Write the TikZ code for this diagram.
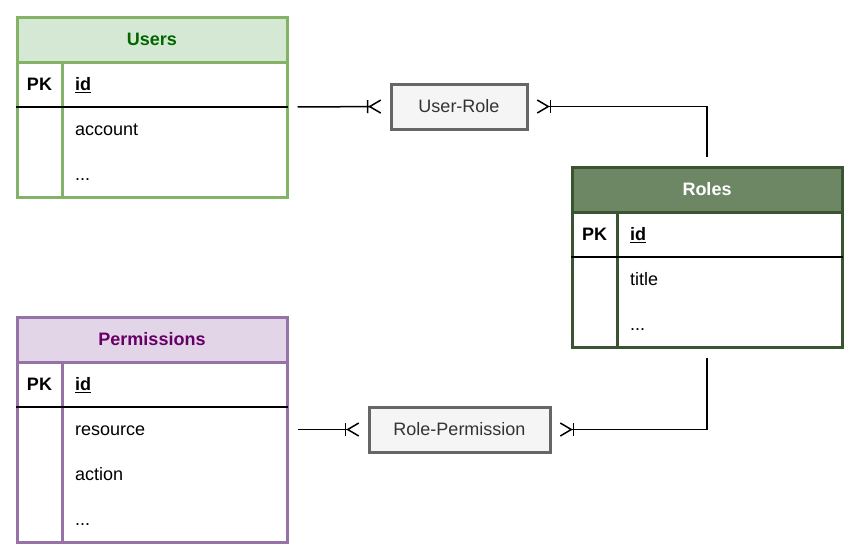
\documentclass[tikz,border=0pt]{standalone}
\usepackage{fontspec}
\setmainfont{Liberation Sans}
\usepackage{tikz}
\usetikzlibrary{arrows.meta,positioning,calc}
\definecolor{usrfill}{HTML}{D5E8D4}
\definecolor{usrline}{HTML}{82B366}
\definecolor{usrtext}{HTML}{006600}
\definecolor{rolfill}{HTML}{6D8764}
\definecolor{rolline}{HTML}{3A5431}
\definecolor{perfill}{HTML}{E1D5E7}
\definecolor{perline}{HTML}{9673A6}
\definecolor{pertext}{HTML}{660066}
\definecolor{jfill}{HTML}{F5F5F5}
\definecolor{jline}{HTML}{666666}
\definecolor{jtext}{HTML}{333333}
\newcommand{\morecols}{...}
\newcommand{\erfont}{\fontsize{18}{22}\selectfont}
\tikzset{
  tbl/.style={rectangle, draw=#1, line width=3pt, fill=white, minimum width=270pt, inner sep=0pt},
  head/.style={rectangle, line width=3pt, minimum width=270pt, minimum height=45pt, inner sep=0pt,
               text height=12.9pt, text depth=0pt, font=\erfont\bfseries},
  field/.style={anchor=west, inner sep=0pt, text height=12.9pt, text depth=0pt},
  pk/.style={font=\erfont\bfseries, inner sep=0pt, text height=12.9pt, text depth=0pt},
  link/.style={rectangle, draw=jline, fill=jfill, line width=3pt, text=jtext, minimum height=45pt, inner sep=0pt,
               text height=12.9pt, text depth=0pt},
  rel/.style={line width=1.5pt, black},
  many/.tip={Bar[width=13pt] Straight Barb[reversed, length=11pt, width=13pt]},
}

\begin{document}
\begin{tikzpicture}[x=1pt, y=-1pt, font=\erfont]
\useasboundingbox (0,0) rectangle (858,558);
% Users
\node[tbl=usrline, minimum height=180pt] (users) at (152,107) {};
\node[head, draw=usrline, fill=usrfill, text=usrtext] (usersHead) at (152,39.5) {Users};
\draw[line width=3pt, usrline] (62,62) -- (62,197);
\draw[line width=1.5pt] (16,107) -- (288,107);
\node[pk] (usersPK) at (39.5,84.5) {PK};
\node[field, font=\erfont\bfseries] (usersId) at (75,84.5) {\underline{id}};
\foreach \y/\lab in {129.5/account, 174.5/\morecols} \node[field] at (75,\y) {\lab};
% Roles
\node[tbl=rolline, minimum height=180pt] (roles) at (707,257) {};
\node[head, draw=rolline, fill=rolfill, text=white] (rolesHead) at (707,189.5) {Roles};
\draw[line width=3pt, rolline] (617,212) -- (617,347);
\draw[line width=1.5pt] (571,257) -- (843,257);
\node[pk] (rolesPK) at (594.5,234.5) {PK};
\node[field, font=\erfont\bfseries] (rolesId) at (630,234.5) {\underline{id}};
\foreach \y/\lab in {279.5/title, 324.5/\morecols} \node[field] at (630,\y) {\lab};
% Permissions
\node[tbl=perline, minimum height=225pt] (perms) at (152,429.5) {};
\node[head, draw=perline, fill=perfill, text=pertext] (permsHead) at (152,339.5) {Permissions};
\draw[line width=3pt, perline] (62,362) -- (62,542);
\draw[line width=1.5pt] (16,407) -- (288,407);
\node[pk] (permsPK) at (39.5,384.5) {PK};
\node[field, font=\erfont\bfseries] (permsId) at (75,384.5) {\underline{id}};
\foreach \y/\lab in {429.5/resource, 474.5/action, 519.5/\morecols} \node[field] at (75,\y) {\lab};
% link tables
\node[link, minimum width=136pt] (userRole) at (459,106.5) {User-Role};
\node[link, minimum width=181pt] (rolePerm) at (459.5,429.5) {Role-Permission};
\draw[rel, -{many}, shorten <=9pt, shorten >=8pt] (users.east) -- (userRole.west);
\draw[rel, {many}-, shorten <=8pt, shorten >=9pt] (userRole.east) -| (roles.north);
\draw[rel, -{many}, shorten <=9pt, shorten >=8pt] (perms.east) -- (rolePerm.west);
\draw[rel, {many}-, shorten <=8pt, shorten >=9pt] (rolePerm.east) -| (roles.south);
\end{tikzpicture}
\end{document}
